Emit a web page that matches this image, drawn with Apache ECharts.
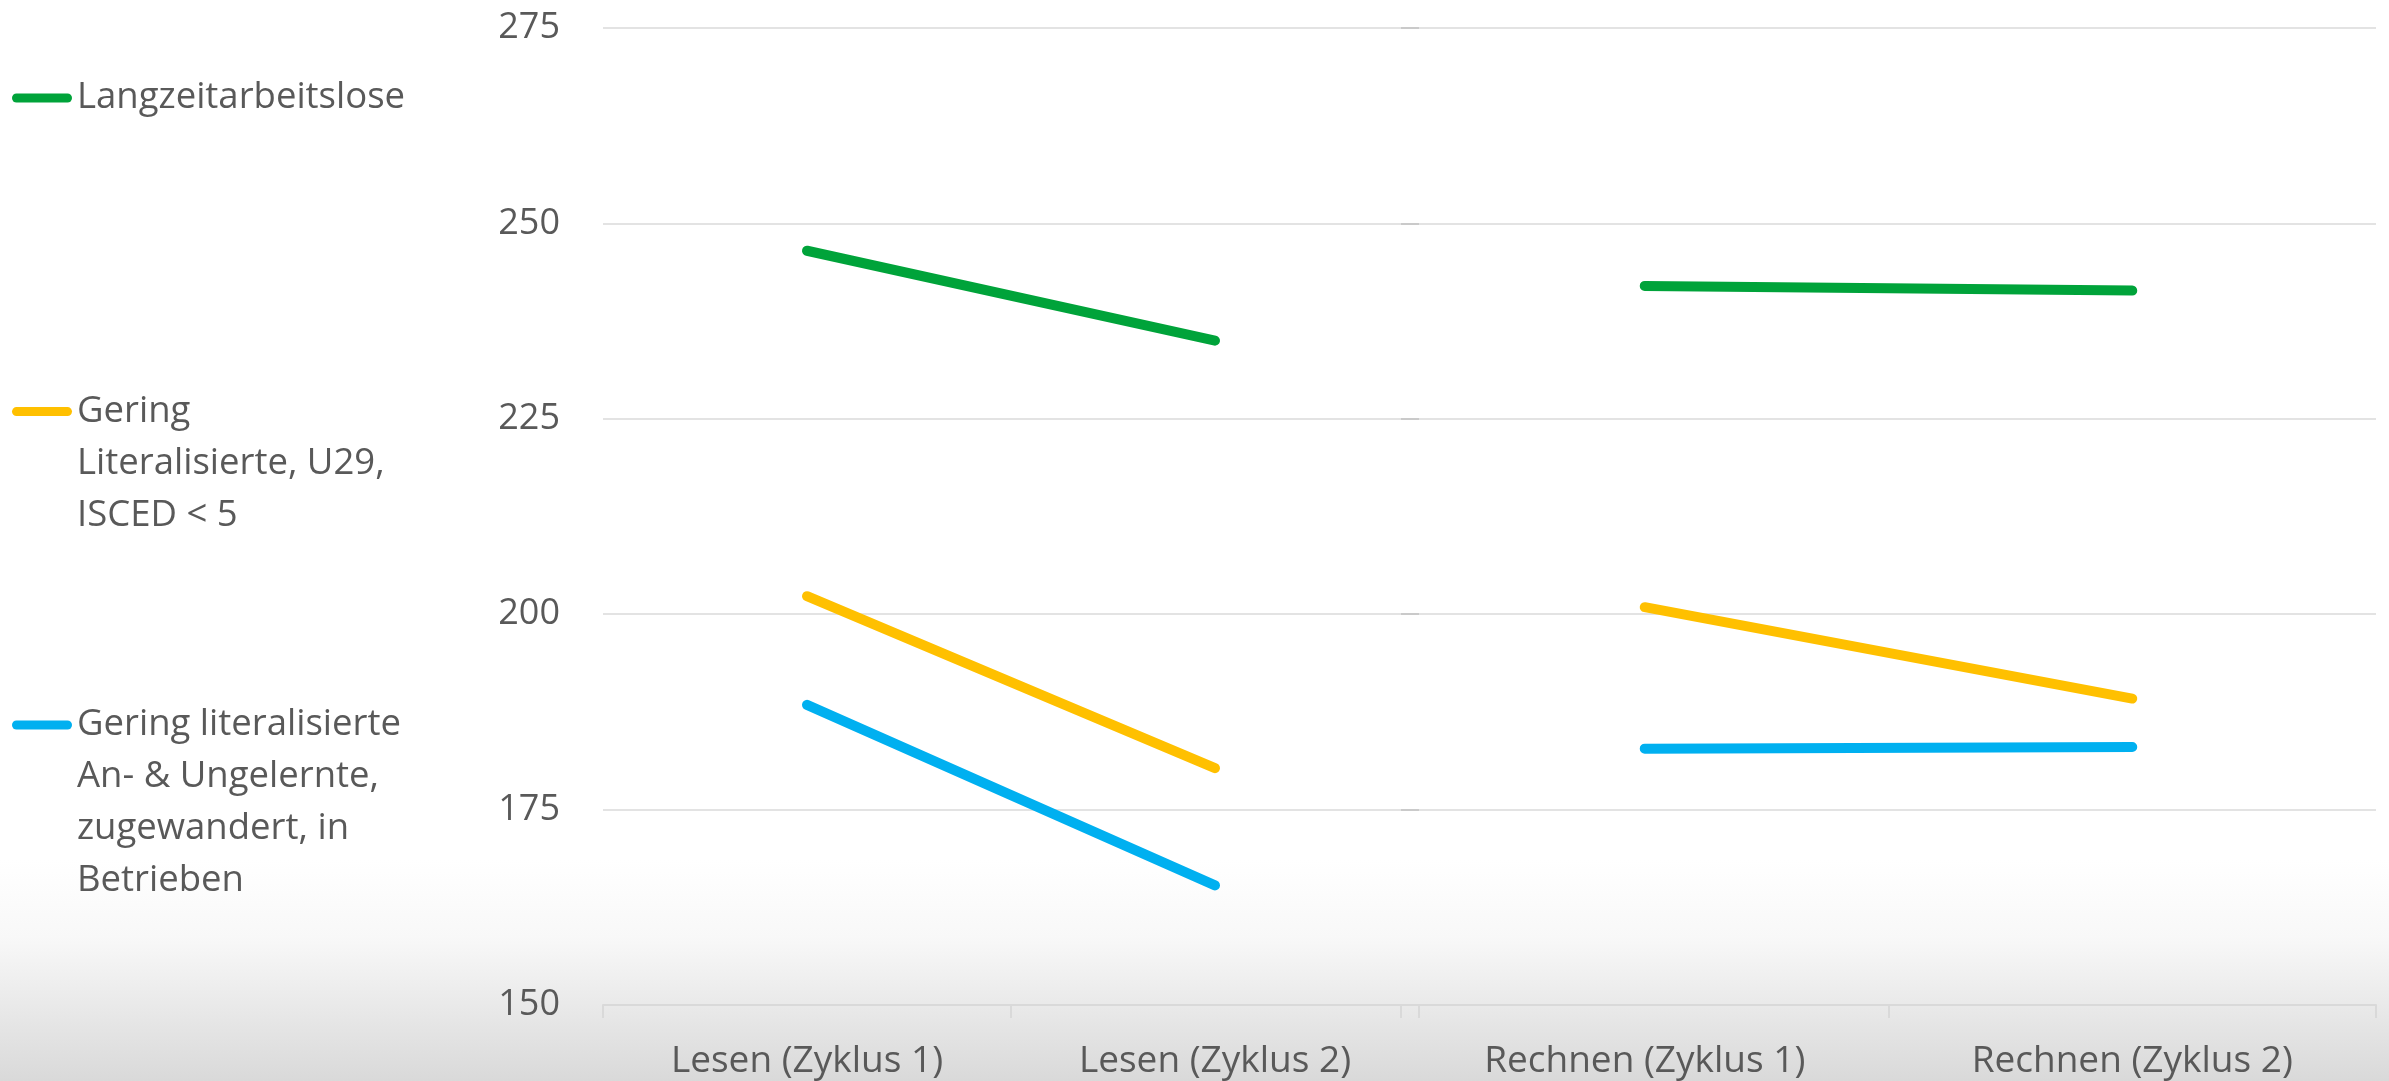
<!DOCTYPE html>
<html>
<head>
<meta charset="utf-8">
<script src="https://cdn.jsdelivr.net/npm/echarts@6/dist/echarts.min.js"></script>
<style>
  html, body { margin: 0; padding: 0; background: #ffffff; }
  #chart { width: 2389px; height: 1081px; }
</style>
</head>
<body>
<div id="chart"></div>
<script>
// ---- data ----
const categoriesLesen = ['Lesen (Zyklus 1)', 'Lesen (Zyklus 2)'];
const categoriesRechnen = ['Rechnen (Zyklus 1)', 'Rechnen (Zyklus 2)'];
const seriesNames = [
  'Langzeitarbeitslose',
  'Gering Literalisierte, U29, ISCED < 5',
  'Gering literalisierte An- & Ungelernte, zugewandert, in Betrieben'
];
const legendLines = [
  ['Langzeitarbeitslose'],
  ['Gering', 'Literalisierte, U29,', 'ISCED < 5'],
  ['Gering literalisierte', 'An- & Ungelernte,', 'zugewandert, in', 'Betrieben']
];
const langzeitLesen = [246.5, 235.0];
const langzeitRechnen = [242.0, 241.4];
const u29Lesen = [202.3, 180.3];
const u29Rechnen = [200.9, 189.2];
const zugewandertLesen = [188.4, 165.3];
const zugewandertRechnen = [182.8, 183.0];
const yMin = 150, yMax = 275, yStep = 25;

// ---- style ----
const colors = ['#00A33A', '#FFC000', '#00B0F0'];
const font = 'Open Sans';
const textColor = '#595959';
const lineH = 52;

const chart = echarts.init(document.getElementById('chart'), null, { renderer: 'canvas' });

function yAxis(gridIndex, showLabels) {
  return {
    type: 'value', gridIndex, min: yMin, max: yMax, interval: yStep,
    axisLine: { show: false }, axisTick: { show: false },
    axisLabel: { show: showLabels, fontFamily: font, fontSize: 36, color: textColor, margin: 43 },
    splitLine: { show: true, lineStyle: { color: 'rgba(0,0,0,0.11)', width: 2 } }
  };
}
function xAxis(gridIndex, cats) {
  return {
    type: 'category', gridIndex, data: cats, boundaryGap: true,
    axisLine: { show: true, lineStyle: { color: '#d9d9d9', width: 2 } },
    axisTick: { show: true, length: 13, lineStyle: { color: '#d9d9d9', width: 2 } },
    axisLabel: { fontFamily: font, fontSize: 37, color: textColor, margin: 38 }
  };
}
function line(name, idx, data, axisIdx) {
  return {
    type: 'line', name, data, xAxisIndex: axisIdx, yAxisIndex: axisIdx,
    symbol: 'none', smooth: false,
    lineStyle: { color: colors[idx], width: 10, cap: 'round' },
    itemStyle: { color: colors[idx] },
    z: 5
  };
}
function legend(idx, iconCenterY) {
  const n = legendLines[idx].length;
  // blank lines before the text so that the first text line sits level with the icon
  const txt = '\n'.repeat(n - 1) + legendLines[idx].join('\n');
  return {
    data: [seriesNames[idx]],
    left: 12, top: iconCenterY - (2 * n - 1) * lineH / 2, orient: 'vertical', padding: 0,
    selectedMode: false,
    itemWidth: 60, itemHeight: 9,
    icon: 'path://M4.5,0 L55.5,0 A4.5,4.5 0 0 1 55.5,9 L4.5,9 A4.5,4.5 0 0 1 4.5,0 Z',
    formatter: () => txt,
    textStyle: { fontFamily: font, fontSize: 36.5, color: textColor, lineHeight: lineH }
  };
}

const option = {
  backgroundColor: '#ffffff',
  animation: false,
  graphic: [{
    type: 'rect', z: -10, silent: true,
    shape: { x: 0, y: 860, width: 2389, height: 221 },
    style: {
      fill: new echarts.graphic.LinearGradient(0, 0, 0, 1, [
        { offset: 0, color: 'rgba(255,255,255,1)' },
        { offset: 0.35, color: '#f8f8f8' },
        { offset: 1, color: '#d9d9d9' }
      ])
    }
  }],
  grid: [
    { left: 603, width: 816, top: 28, bottom: 76 },
    { left: 1401, width: 975, top: 28, bottom: 76 }
  ],
  xAxis: [xAxis(0, categoriesLesen), xAxis(1, categoriesRechnen)],
  yAxis: [yAxis(0, true), yAxis(1, false)],
  legend: [
    legend(0, 98),
    legend(1, 411.6),
    legend(2, 725)
  ],
  series: [
    line(seriesNames[0], 0, langzeitLesen, 0),
    line(seriesNames[1], 1, u29Lesen, 0),
    line(seriesNames[2], 2, zugewandertLesen, 0),
    line(seriesNames[0], 0, langzeitRechnen, 1),
    line(seriesNames[1], 1, u29Rechnen, 1),
    line(seriesNames[2], 2, zugewandertRechnen, 1)
  ]
};
chart.setOption(option);
</script>
</body>
</html>
